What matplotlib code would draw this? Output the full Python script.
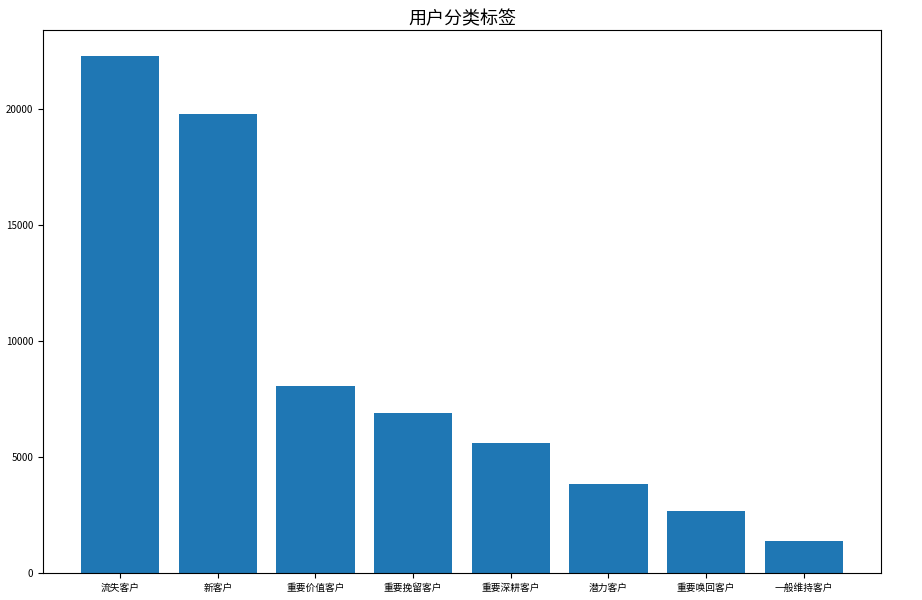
import matplotlib
matplotlib.use("Agg")
import matplotlib.pyplot as plt

plt.rcParams['font.family'] = ['Noto Sans CJK SC', 'DejaVu Sans']
plt.rcParams['axes.unicode_minus'] = False

labels = ["流失客户", "新客户", "重要价值客户", "重要挽留客户", "重要深耕客户", "潜力客户", "重要唤回客户", "一般维持客户"]
counts = [22290, 19810, 8055, 6895, 5605, 3840, 2680, 1390]

fig = plt.figure(figsize=(9.22, 6.0), dpi=100)
ax = fig.add_axes([0.0466, 0.0445, 0.9089, 0.905])
ax.bar(labels, counts, color="#1f77b4", width=0.8)
ax.set_title("用户分类标签", fontsize=13, pad=4)
ax.tick_params(labelsize=7)
plt.savefig("out.png", dpi=100)
